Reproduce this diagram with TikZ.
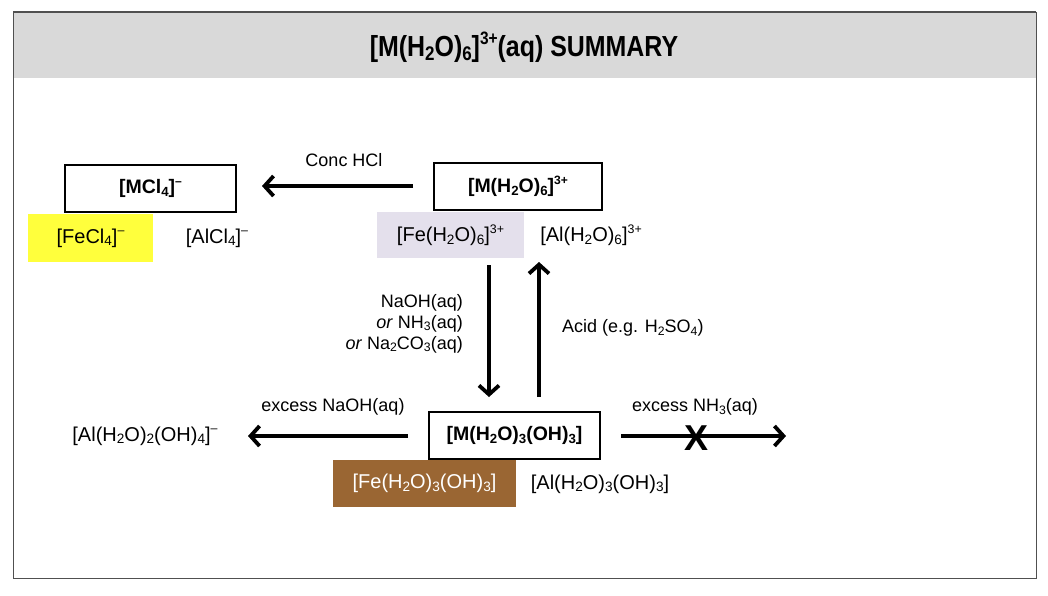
\documentclass[tikz,border=0pt]{standalone}
\usepackage{fontspec}
\setmainfont{Liberation Sans}
\usetikzlibrary{arrows.meta}
\newcommand{\sbs}[1]{\raisebox{-0.25ex}{\scalebox{0.68}{#1}}}
\newcommand{\sps}[1]{\raisebox{0.8ex}{\scalebox{0.62}{#1}}}
\newcommand{\mns}{\sps{--}}
\definecolor{hdrgrey}{HTML}{D9D9D9}
\definecolor{feyellow}{HTML}{FFFF3C}
\definecolor{lavender}{HTML}{E4E0EC}
\definecolor{rust}{HTML}{9A6633}
\definecolor{framegrey}{HTML}{505050}
\tikzset{
  species/.style={draw=black,line width=1.2pt,minimum width=171pt,minimum height=47pt,font=\fontsize{19.5}{22}\selectfont\bfseries,inner sep=0pt},
  plain/.style={font=\fontsize{20}{23}\selectfont,inner sep=0pt},
  lbl/.style={font=\fontsize{18}{21}\selectfont,inner sep=0pt},
  patch/.style={inner sep=0pt,font=\fontsize{20}{23}\selectfont},
  rxn/.style={line width=3.8pt,-{Straight Barb[length=9pt,width=20pt,line width=3.8pt]}}
}
\begin{document}
\begin{tikzpicture}[x=1pt,y=-1pt]
\useasboundingbox (0,0) rectangle (1048,595);
% frame and header
\fill[white] (0,0) rectangle (1048,595);
\fill[hdrgrey] (13,13) rectangle (1036,78);
\draw[framegrey,line width=1pt] (13,12) rectangle (1036,578);
\draw[framegrey,line width=2pt] (13,12) -- (1036,12);
\node[font=\fontsize{29}{32}\selectfont\bfseries] (title) at (524,47)
  {\scalebox{0.86}[1]{[M(H\sbs{2}O)\sbs{6}]\sps{3+}(aq) SUMMARY}};
% top-left
\node[species] (mcl) at (150.5,188.5) {[MCl\sbs{4}]\mns};
\node[patch,fill=feyellow,minimum width=125pt,minimum height=48pt] (fecl) at (90.5,238) {[FeCl\sbs{4}]\mns};
\node[plain] (alcl) at (217,238) {[AlCl\sbs{4}]\mns};
% top centre
\node[species,minimum width=168pt] (mh2o) at (518,186.5) {[M(H\sbs{2}O)\sbs{6}]\sps{3+}};
\node[patch,fill=lavender,minimum width=147pt,minimum height=46pt] (feh2o) at (450.5,235) {[Fe(H\sbs{2}O)\sbs{6}]\sps{3+}};
\node[plain] (alh2o) at (591,235) {[Al(H\sbs{2}O)\sbs{6}]\sps{3+}};
% bottom centre
\node[species] (moh) at (514.5,435.5) {[M(H\sbs{2}O)\sbs{3}(OH)\sbs{3}]};
\node[patch,fill=rust,text=white,minimum width=183pt,minimum height=47pt] (feoh) at (424.5,483.5) {[Fe(H\sbs{2}O)\sbs{3}(OH)\sbs{3}]};
\node[plain] (aloh) at (600,484) {[Al(H\sbs{2}O)\sbs{3}(OH)\sbs{3}]};
% left product
\node[plain] (aloh4) at (145,436) {[Al(H\sbs{2}O)\sbs{2}(OH)\sbs{4}]\mns};
% arrow anchors
\coordinate (hclS) at (413,186);
\coordinate (hclE) at (262,186);
\coordinate (dnS) at (489,265);
\coordinate (dnE) at (489,397);
\coordinate (upS) at (539,397);
\coordinate (upE) at (539,262);
\coordinate (naS) at (408,436);
\coordinate (naE) at (248,436);
\coordinate (nhS) at (621,436);
\coordinate (nhE) at (786,436);
\draw[rxn] (hclS) -- (hclE);
\draw[rxn] (dnS) -- (dnE);
\draw[rxn] (upS) -- (upE);
\draw[rxn] (naS) -- (naE);
\draw[rxn] (nhS) -- (nhE);
% labels
\node[lbl] (lhcl) at (344,160) {Conc HCl};
\node[lbl,align=right,anchor=east] (lbase) at (463,323.5) {NaOH(aq)\\ \textit{or} NH\sbs{3}(aq)\\ \textit{or} Na\sbs{2}CO\sbs{3}(aq)};
\node[lbl,anchor=west] (lacid) at (562,328) {Acid (e.g. H\sbs{2}SO\sbs{4})};
\node[lbl] (lna) at (333,407) {excess NaOH(aq)};
\node[lbl] (lnh) at (695,407) {excess NH\sbs{3}(aq)};
\node[font=\fontsize{36}{36}\selectfont\bfseries,inner sep=0pt] (xmark) at (696,438) {X};
\end{tikzpicture}
\end{document}
